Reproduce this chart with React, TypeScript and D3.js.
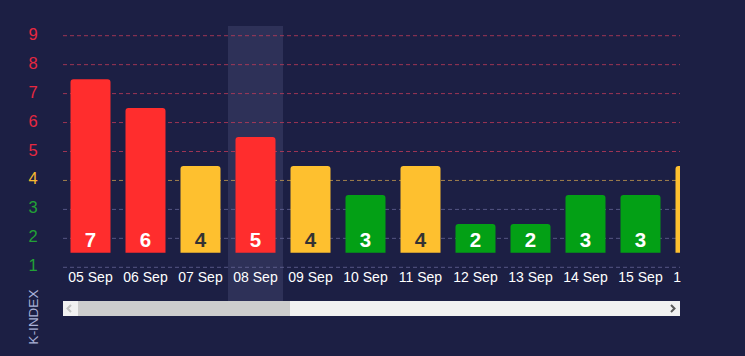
import React from "react";
import * as d3 from "d3";

const dates = ["05 Sep", "06 Sep", "07 Sep", "08 Sep", "09 Sep", "10 Sep", "11 Sep", "12 Sep", "13 Sep", "14 Sep", "15 Sep", "16 Sep"];
const kValues = [7, 6, 4, 5, 4, 3, 4, 2, 2, 3, 3, 4];
const yTicks = [1, 2, 3, 4, 5, 6, 7, 8, 9];
const highlighted = "08 Sep";

const W = 745;
const H = 356;
const plotLeft = 63;
const plotRight = 680;
const bandW = 55;

const RED = "#ff2d2d";
const YELLOW = "#fec02f";
const GREEN = "#03a015";

function barColor(v: number) {
  return v >= 5 ? RED : v === 4 ? YELLOW : GREEN;
}
function tickColor(v: number) {
  return v >= 5 ? "#e82840" : v === 4 ? "#f8b930" : "#22a236";
}
function gridColor(v: number) {
  return v >= 5 ? "rgba(200,60,90,0.75)" : v === 4 ? "rgba(220,170,80,0.7)" : "rgba(110,110,160,0.7)";
}

export default function App() {
  const x = d3
    .scaleBand<string>()
    .domain(dates)
    .range([plotLeft, plotLeft + bandW * dates.length])
    .paddingInner(0.2727)
    .paddingOuter(0.1364);
  const y = d3.scaleLinear().domain([1, 9]).range([267.3, 35.7]);
  const bw = 40;
  const bandStart = (d: string) => plotLeft + dates.indexOf(d) * bandW;

  const roundedTop = (x0: number, y0: number, w: number, y1: number, r: number) => {
    const p = d3.path();
    p.moveTo(x0, y1);
    p.lineTo(x0, y0 + r);
    p.arcTo(x0, y0, x0 + r, y0, r);
    p.lineTo(x0 + w - r, y0);
    p.arcTo(x0 + w, y0, x0 + w, y0 + r, r);
    p.lineTo(x0 + w, y1);
    p.closePath();
    return p.toString();
  };

  return (
    <svg
      width={W}
      height={H}
      style={{ position: "absolute", left: 0, top: 0, display: "block" }}
      fontFamily="'Liberation Sans', Arial, sans-serif"
    >
      <defs>
        <clipPath id="plotClip">
          <rect x={plotLeft} y={0} width={plotRight - plotLeft} height={H} />
        </clipPath>
        <clipPath id="labelClip">
          <rect x={plotLeft} y={0} width={plotRight - plotLeft + 1} height={H} />
        </clipPath>
      </defs>
      <rect x={0} y={0} width={W} height={H} fill="#1c1f44" />

      {/* highlight band */}
      <rect x={bandStart(highlighted)} y={26} width={bandW} height={275} fill="#2e3158" />

      {/* grid lines */}
      {yTicks.map((t) => (
        <line
          key={t}
          x1={plotLeft}
          x2={plotRight}
          y1={y(t)}
          y2={y(t)}
          stroke={gridColor(t)}
          strokeWidth={1}
          strokeDasharray="4,3"
        />
      ))}

      {/* y tick labels */}
      {yTicks.map((t) => (
        <text
          key={t}
          x={33}
          y={y(t) + 4}
          textAnchor="middle"
          fontSize={16.5}
          fill={tickColor(t)}
        >
          {t}
        </text>
      ))}

      {/* bars */}
      <g clipPath="url(#plotClip)">
        {dates.map((d, i) => {
          const v = kValues[i];
          const x0 = (x(d) as number) + (x.bandwidth() - bw) / 2;
          const top = y(v + 0.5);
          const bottom = y(1.5);
          return (
            <g key={d}>
              <path d={roundedTop(x0, top, bw, bottom, 3)} fill={barColor(v)} />
              <text
                x={x0 + bw / 2}
                y={246.5}
                textAnchor="middle"
                fontSize={20.5}
                fontWeight="bold"
                fill={v === 4 ? "#333333" : "#ffffff"}
              >
                {v}
              </text>
            </g>
          );
        })}
      </g>

      {/* x labels */}
      <g clipPath="url(#labelClip)">
        {dates.map((d) => (
          <text
            key={d}
            x={(x(d) as number) + x.bandwidth() / 2}
            y={282}
            textAnchor="middle"
            fontSize={14}
            fill="#ffffff"
          >
            {d}
          </text>
        ))}
      </g>

      {/* scrollbar */}
      <rect x={plotLeft} y={301} width={plotRight - plotLeft} height={15} fill="#f1f1f1" />
      <rect x={78} y={301} width={212} height={15} fill="#cdcdcd" />
      <path d="M71,305 L67.5,308.5 L71,312" fill="none" stroke="#c2c2c2" strokeWidth={2} />
      <path d="M671,305 L674.5,308.5 L671,312" fill="none" stroke="#5a5a5a" strokeWidth={2} />

      {/* y axis title */}
      <text
        transform={`translate(38,317) rotate(-90)`}
        textAnchor="middle"
        fontSize={13.5}
        fill="#a9b0d6"
      >
        K-INDEX
      </text>
    </svg>
  );
}
